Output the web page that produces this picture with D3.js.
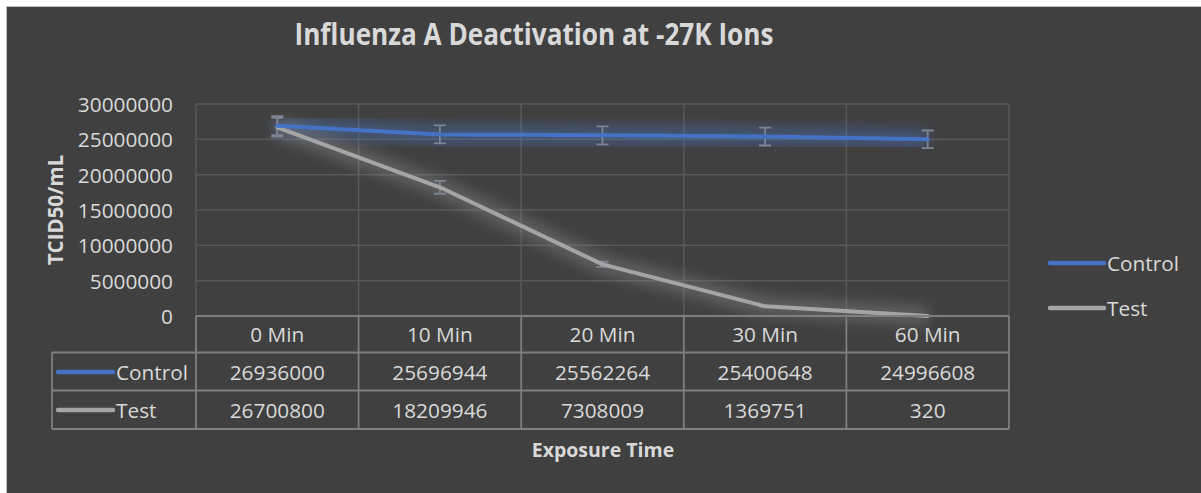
<!DOCTYPE html>
<html>
<head>
<meta charset="utf-8">
<script src="https://cdn.jsdelivr.net/npm/d3@7"></script>
<style>
  body { margin: 0; background: #ffffff; }
  svg { display: block; font-family: "Open Sans", sans-serif; }
</style>
</head>
<body>
<svg width="1201" height="493"></svg>
<script>
var categories = ['0 Min', '10 Min', '20 Min', '30 Min', '60 Min'];
var seriesNames = ['Control', 'Test'];
var controlValues = [26936000, 25696944, 25562264, 25400648, 24996608];
var testValues = [26700800, 18209946, 7308009, 1369751, 320];
// error bar half-heights
var controlErrors = [1350000, 1280000, 1280000, 1270000, 1250000];
var testErrors = [1330000, 910000, 370000, 70000, 0];
var yTicks = [0, 5000000, 10000000, 15000000, 20000000, 25000000, 30000000];

var series = [
    { name: seriesNames[0], values: controlValues, errors: controlErrors, color: '#4472c4', glow: '#4a78d0' },
    { name: seriesNames[1], values: testValues, errors: testErrors, color: '#a5a5a5', glow: '#909090' }
];

var svg = d3.select("svg"),
    textColor = '#d9d9d9',
    gridColor = '#595959',
    tableColor = '#7f7f7f';

var defs = svg.append("defs");
defs.append("filter")
    .attr("id", "glow")
    .attr("x", "-20%").attr("y", "-50%")
    .attr("width", "140%").attr("height", "200%")
    .append("feGaussianBlur")
    .attr("stdDeviation", 7);

// chart background
svg.append("rect")
    .attr("x", 6.5).attr("y", 6.5)
    .attr("width", 1200).attr("height", 492)
    .attr("fill", "#404040")
    .attr("stroke", "#bfbfbf");

var x = d3.scaleBand()
    .domain(categories)
    .range([196, 1009]);

var y = d3.scaleLinear()
    .domain([0, 30000000])
    .range([316, 104]);

// title
svg.append("text")
    .attr("x", 534)
    .attr("y", 45)
    .attr("text-anchor", "middle")
    .attr("font-size", 29.5)
    .attr("font-weight", "bold")
    .attr("fill", textColor)
    .attr("textLength", 479)
    .attr("lengthAdjust", "spacingAndGlyphs")
    .text("Influenza A Deactivation at -27K Ions");

// horizontal gridlines
svg.append("g")
    .selectAll("line")
    .data(yTicks.filter(function(d) { return d > 0; }))
    .enter().append("line")
    .attr("x1", 196).attr("x2", 1009)
    .attr("y1", function(d) { return y(d); })
    .attr("y2", function(d) { return y(d); })
    .attr("stroke", gridColor)
    .attr("stroke-width", 1.5);

// vertical gridlines at the category edges
var edges = categories.map(function(c) { return x(c); }).concat([x.range()[1]]);
svg.append("g")
    .selectAll("line")
    .data(edges)
    .enter().append("line")
    .attr("x1", function(d) { return d; })
    .attr("x2", function(d) { return d; })
    .attr("y1", y(30000000)).attr("y2", y(0))
    .attr("stroke", gridColor)
    .attr("stroke-width", 1.5);

// y axis labels
var yAxis = svg.append("g")
    .attr("transform", "translate(173,0)")
    .call(d3.axisLeft(y).tickValues(yTicks).tickSize(0).tickPadding(0).tickFormat(d3.format("d")));
yAxis.select(".domain").remove();
yAxis.selectAll("text")
    .attr("font-family", "Open Sans")
    .attr("font-size", 20.8)
    .attr("fill", textColor)
    .attr("dy", "0.36em");

svg.append("text")
    .attr("transform", "translate(63,210) rotate(-90)")
    .attr("text-anchor", "middle")
    .attr("font-size", 20.5)
    .attr("font-weight", "bold")
    .attr("fill", textColor)
    .text("TCID50/mL");

var line = d3.line()
    .x(function(d, i) { return x(categories[i]) + x.bandwidth() / 2; })
    .y(function(d) { return y(d); });

// glow under the lines
svg.append("g")
    .selectAll("path")
    .data(series)
    .enter().append("path")
    .attr("d", function(d) { return line(d.values); })
    .attr("fill", "none")
    .attr("stroke", function(d) { return d.glow; })
    .attr("stroke-width", 18)
    .attr("stroke-opacity", 0.42)
    .attr("filter", "url(#glow)");

// error bars
var bars = svg.append("g");
series.forEach(function(s) {
    s.values.forEach(function(v, i) {
        if (s.errors[i] <= 0) return;
        var cx = x(categories[i]) + x.bandwidth() / 2,
            y0 = y(v + s.errors[i]),
            y1 = y(v - s.errors[i]);
        bars.append("path")
            .attr("d", "M" + cx + "," + y0 + "V" + y1 +
                "M" + (cx - 6) + "," + y0 + "H" + (cx + 6) +
                "M" + (cx - 6) + "," + y1 + "H" + (cx + 6))
            .attr("fill", "none")
            .attr("stroke", "#7d8594")
            .attr("stroke-width", 1.8);
    });
});

// lines
svg.append("g")
    .selectAll("path")
    .data(series.slice().reverse())
    .enter().append("path")
    .attr("d", function(d) { return line(d.values); })
    .attr("fill", "none")
    .attr("stroke", function(d) { return d.color; })
    .attr("stroke-width", 4)
    .attr("stroke-linejoin", "round")
    .attr("stroke-linecap", "round");

// data table below the plot
var rowTop = [316, 352.5, 390.5, 429];
var table = svg.append("g")
    .attr("stroke", tableColor)
    .attr("stroke-width", 1.8)
    .attr("fill", "none");

table.append("line").attr("x1", 196).attr("x2", 1009).attr("y1", rowTop[0]).attr("y2", rowTop[0]);
rowTop.slice(1).forEach(function(ry) {
    table.append("line").attr("x1", 52).attr("x2", 1009).attr("y1", ry).attr("y2", ry);
});
table.append("line").attr("x1", 52).attr("x2", 52).attr("y1", rowTop[1]).attr("y2", rowTop[3]);
edges.forEach(function(ex) {
    table.append("line").attr("x1", ex).attr("x2", ex).attr("y1", rowTop[0]).attr("y2", rowTop[3]);
});

var cells = svg.append("g")
    .attr("font-size", 20.8)
    .attr("fill", textColor)
    .attr("text-anchor", "middle");

cells.selectAll(".head")
    .data(categories)
    .enter().append("text")
    .attr("class", "head")
    .attr("x", function(d) { return x(d) + x.bandwidth() / 2; })
    .attr("y", 342)
    .text(function(d) { return d; });

var rowBase = [380, 418];
series.forEach(function(s, r) {
    cells.selectAll(".r" + r)
        .data(s.values)
        .enter().append("text")
        .attr("class", "r" + r)
        .attr("x", function(d, i) { return x(categories[i]) + x.bandwidth() / 2; })
        .attr("y", rowBase[r])
        .text(function(d) { return d; });

    var ly = rowBase[r] - 8;
    svg.append("line")
        .attr("x1", 58).attr("x2", 113)
        .attr("y1", ly).attr("y2", ly)
        .attr("stroke", s.color)
        .attr("stroke-width", 4.5)
        .attr("stroke-linecap", "round");
    svg.append("text")
        .attr("x", 116)
        .attr("y", rowBase[r])
        .attr("font-size", 20.8)
        .attr("fill", textColor)
        .text(s.name);
});

svg.append("text")
    .attr("x", 603)
    .attr("y", 457)
    .attr("text-anchor", "middle")
    .attr("font-size", 19.5)
    .attr("font-weight", "bold")
    .attr("fill", textColor)
    .text("Exposure Time");

// legend on the right
var legend = svg.append("g")
    .selectAll("g")
    .data(series)
    .enter().append("g")
    .attr("transform", function(d, i) { return "translate(1049," + (263 + i * 45) + ")"; });

legend.append("line")
    .attr("x1", 1).attr("x2", 55)
    .attr("stroke", function(d) { return d.color; })
    .attr("stroke-width", 4.5)
    .attr("stroke-linecap", "round");

legend.append("text")
    .attr("x", 58)
    .attr("y", 8)
    .attr("font-size", 20.8)
    .attr("fill", textColor)
    .text(function(d) { return d.name; });
</script>
</body>
</html>
